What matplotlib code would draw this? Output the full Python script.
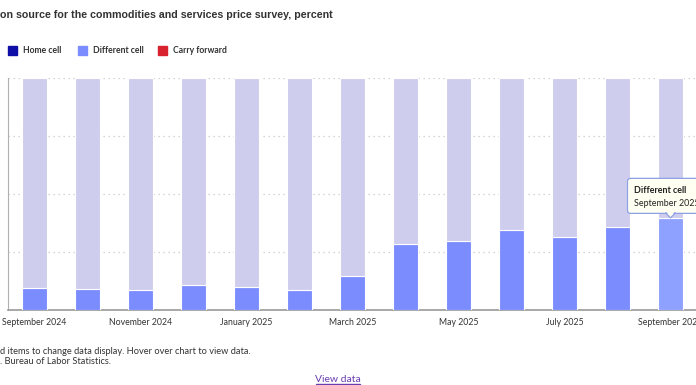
import matplotlib
matplotlib.use("Agg")
import matplotlib.pyplot as plt
from matplotlib.patches import Rectangle, FancyBboxPatch
from matplotlib.transforms import IdentityTransform
import numpy as np

months = ["September 2024", "October 2024", "November 2024", "December 2024",
          "January 2025", "February 2025", "March 2025", "April 2025", "May 2025",
          "June 2025", "July 2025", "August 2025", "September 2025"]
different_cell = [9.6, 8.9, 8.8, 10.6, 9.7, 8.7, 14.8, 28.6, 29.7, 34.6, 31.5, 35.6, 39.5]
home_cell = [90.4, 91.1, 91.2, 89.4, 90.3, 91.3, 85.2, 71.4, 70.3, 65.4, 68.5, 64.4, 60.5]
carry_forward = [0, 0, 0, 0, 0, 0, 0, 0, 0, 0, 0, 0, 0]
series_names = ["Home cell", "Different cell", "Carry forward"]
series_colors = ["#0f0fa8", "#7b8cff", "#d8222d"]
title = "on source for the commodities and services price survey, percent"
note1 = "d items to change data display. Hover over chart to view data."
note2 = ". Bureau of Labor Statistics."
link = "View data"

W, H = 696, 385
fig = plt.figure(figsize=(W / 100, H / 100), dpi=100)
fig.patch.set_facecolor("white")

def fx(px):
    return px / W

def fy(py):
    return 1 - py / H

# axes: x from 8 to 697 px, y from 78 to 310 px
ax = fig.add_axes([fx(8), fy(310), (697 - 8) / W, (310 - 78) / H])
x = np.arange(len(months))
bw = 25 / 53

diff_colors = ["#7b8cff"] * (len(months) - 1) + ["#8fa1ff"]
ax.bar(x, different_cell, width=bw, color=diff_colors, edgecolor="white", linewidth=0.8, zorder=3)
ax.bar(x, home_cell, width=bw, bottom=different_cell, color="#cecdee", edgecolor="white",
       linewidth=0.8, zorder=3)
ax.bar(x, carry_forward, width=bw, bottom=np.array(different_cell) + np.array(home_cell),
       color="#f2c4c6", edgecolor="white", linewidth=0, zorder=3)

ax.set_xlim(-0.5, len(months) - 0.5)
ax.set_ylim(0, 100)
ax.set_yticks([0, 25, 50, 75, 100])
ax.set_yticklabels([])
ax.tick_params(axis="y", length=0)
ax.yaxis.grid(True, linestyle=(0, (1, 3)), color="#c8c8c8", linewidth=0.9)
ax.set_axisbelow(True)
ax.set_xticks(x[::2])
ax.set_xticklabels([months[i] for i in range(0, len(months), 2)],
                   fontfamily="Lato", fontsize=6.3, color="#333333")
ax.tick_params(axis="x", length=0, pad=6)
for s in ["top", "right"]:
    ax.spines[s].set_visible(False)
ax.spines["left"].set_color("#b0b0b0")
ax.spines["bottom"].set_color("#999999")
ax.spines["bottom"].set_linewidth(1.2)
ax.patch.set_alpha(0)

# title
fig.text(fx(0), fy(15), title, fontfamily="Liberation Sans", fontweight="bold",
         fontsize=7.65, color="#333333", va="center", ha="left")

# legend
lx = [8, 78, 158]
for i, name in enumerate(series_names):
    fig.patches.append(Rectangle((fx(lx[i]), fy(55)), fx(9), 9 / H,
                                 transform=fig.transFigure, color=series_colors[i]))
    fig.text(fx(lx[i] + 15), fy(50.5), name, fontfamily="Lato", fontweight="bold",
             fontsize=6.2, color="#333333", va="center", ha="left")

# tooltip anchored to last bar
px, py = ax.transData.transform((x[-1], different_cell[-1]))
box = FancyBboxPatch((px - 43, py + 5), 90, 35, boxstyle="round,pad=0,rounding_size=3",
                     transform=IdentityTransform(), facecolor="#fffff2", edgecolor="#8ea0e6",
                     linewidth=0.9, zorder=5)
fig.patches.append(box)
tri = plt.Polygon([[px - 5, py + 5.5], [px + 5, py + 5.5], [px, py + 0.5]], closed=True,
                  transform=IdentityTransform(), facecolor="#fffff2", edgecolor="#8ea0e6",
                  linewidth=0.9, zorder=5)
fig.patches.append(tri)
tri2 = plt.Polygon([[px - 4, py + 6.5], [px + 4, py + 6.5], [px, py + 2]], closed=True,
                   transform=IdentityTransform(), facecolor="#fffff2", edgecolor="none", zorder=5)
fig.patches.append(tri2)
fig.text(px - 37, py + 28, "Different cell", transform=IdentityTransform(),
         fontfamily="Lato", fontweight="bold", fontsize=6.4, color="#222222",
         ha="left", va="center", zorder=7)
fig.text(px - 37, py + 15, "September 2025", transform=IdentityTransform(),
         fontfamily="Lato", fontsize=6.4, color="#222222",
         ha="left", va="center", zorder=7)

# notes
fig.text(fx(0), fy(351), note1, fontfamily="Lato", fontsize=6.7, color="#333333",
         va="center", ha="left")
fig.text(fx(0), fy(362), note2, fontfamily="Lato", fontsize=6.7, color="#333333",
         va="center", ha="left")
fig.text(fx(338), fy(379), link, fontfamily="Lato", fontsize=7.5, color="#6a3cb0",
         va="center", ha="center")
fig.patches.append(Rectangle((fx(316), fy(385)), fx(44), 0.8 / H, transform=fig.transFigure,
                             color="#6a3cb0"))

fig.savefig("out.png", dpi=100)
